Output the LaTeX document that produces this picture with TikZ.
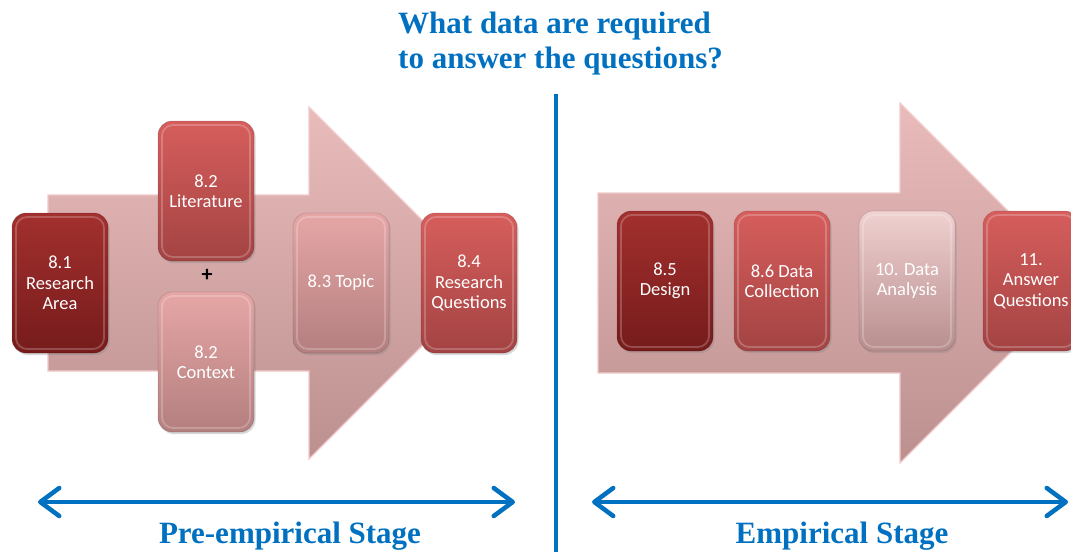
\documentclass[tikz,border=0pt]{standalone}
\usepackage{fontspec}
\setmainfont{Liberation Serif}
\newfontfamily\boxfont{Carlito}
\usetikzlibrary{shadows,arrows.meta}

\definecolor{stageblue}{HTML}{0070C0}
\definecolor{arrowtop}{HTML}{E9BBBB}
\definecolor{arrowbot}{HTML}{BD9090}
\definecolor{arrowedge}{HTML}{F0CACA}
\definecolor{darktop}{HTML}{A2302E}
\definecolor{darkbot}{HTML}{761B1B}
\definecolor{midtop}{HTML}{D65E5C}
\definecolor{midbot}{HTML}{A34343}
\definecolor{lighttop}{HTML}{E6A6A6}
\definecolor{lightbot}{HTML}{B47F7F}
\definecolor{paletop}{HTML}{F0D0D0}
\definecolor{palebot}{HTML}{B88E8E}

\tikzset{
  stagebox/.style={
    rounded corners=14pt, minimum width=96pt, minimum height=140pt,
    inner sep=2pt, align=center, text=white,
    font=\boxfont\fontsize{18.5}{20.5}\selectfont,
    draw=black, draw opacity=0.12, line width=0.8pt,
    drop shadow={shadow xshift=1.5pt, shadow yshift=-2pt, opacity=0.3},
    path picture={
      \draw[white, opacity=0.22, line width=1.8pt, rounded corners=11pt]
        ([shift={(4pt,-4pt)}]path picture bounding box.north west) rectangle
        ([shift={(-4pt,4pt)}]path picture bounding box.south east);
    }},
  darkbox/.style={stagebox, top color=darktop, bottom color=darkbot},
  midbox/.style={stagebox, top color=midtop, bottom color=midbot},
  lightbox/.style={stagebox, top color=lighttop, bottom color=lightbot},
  palebox/.style={stagebox, top color=paletop, bottom color=palebot},
  flowarrow/.style={top color=arrowtop, bottom color=arrowbot,
    draw=arrowedge, line width=1.2pt, line join=miter},
  stagelabel/.style={text=stageblue, font=\bfseries\fontsize{31}{35}\selectfont,
    inner sep=0pt, anchor=base},
  stagespan/.style={draw=stageblue, line width=4.5pt,
    {Straight Barb[length=19pt, width=28pt, line cap=round, line join=round]}-{Straight Barb[length=19pt, width=28pt, line cap=round, line join=round]}},
}

\begin{document}
\begin{tikzpicture}[x=1pt, y=-1pt]
\useasboundingbox (0,0) rectangle (1071,552);
\clip (0,0) rectangle (1071,552);

% question heading
\node[stagelabel, anchor=base west] (q1) at (398,33) {What data are required};
\node[stagelabel, anchor=base west] (q2) at (398,68) {to answer the questions?};

% divider between the two stages
\coordinate (divtop) at (556,94);
\coordinate (divbot) at (556,552);
\draw[stageblue, line width=4.5pt] (divtop) -- (divbot);

% broad background arrows
\path[flowarrow] (48,195) -- (309,195) -- (309,107) -- (485,283)
  -- (309,459) -- (309,371) -- (48,371) -- cycle;
\path[flowarrow] (598,193) -- (900,193) -- (900,103) -- (1080,283)
  -- (900,463) -- (900,373) -- (598,373) -- cycle;

% pre-empirical steps
\node[darkbox]  (area)    at (60,283)  {8.1\\Research\\Area};
\node[midbox]   (lit)     at (206,191) {8.2\\Literature};
\node[lightbox] (context) at (206,362) {8.2\\Context};
\node[font=\boxfont\bfseries\fontsize{22}{22}\selectfont, inner sep=0pt]
  (plus) at (207,275) {+};
\node[lightbox] (topic)   at (341,283) {8.3 Topic};
\node[midbox]   (rq)      at (469,283) {8.4\\Research\\Questions};

% empirical steps
\node[darkbox]  (design)   at (665,281)  {8.5\\Design};
\node[midbox]   (collect)  at (782,281)  {8.6 Data\\Collection};
\node[palebox]  (analysis) at (907,281)  {10. Data\\Analysis};
\node[midbox]   (answer)   at (1031,281) {11.\\Answer\\Questions};

% stage spans
\coordinate (preL) at (38,502);
\coordinate (preR) at (515,502);
\coordinate (empL) at (592,502);
\coordinate (empR) at (1068,502);
\draw[stagespan] (preL) -- (preR);
\draw[stagespan] (empL) -- (empR);

\node[stagelabel] (prelabel) at (290,543) {Pre-empirical Stage};
\node[stagelabel] (emplabel) at (842,543) {Empirical Stage};
\end{tikzpicture}
\end{document}
